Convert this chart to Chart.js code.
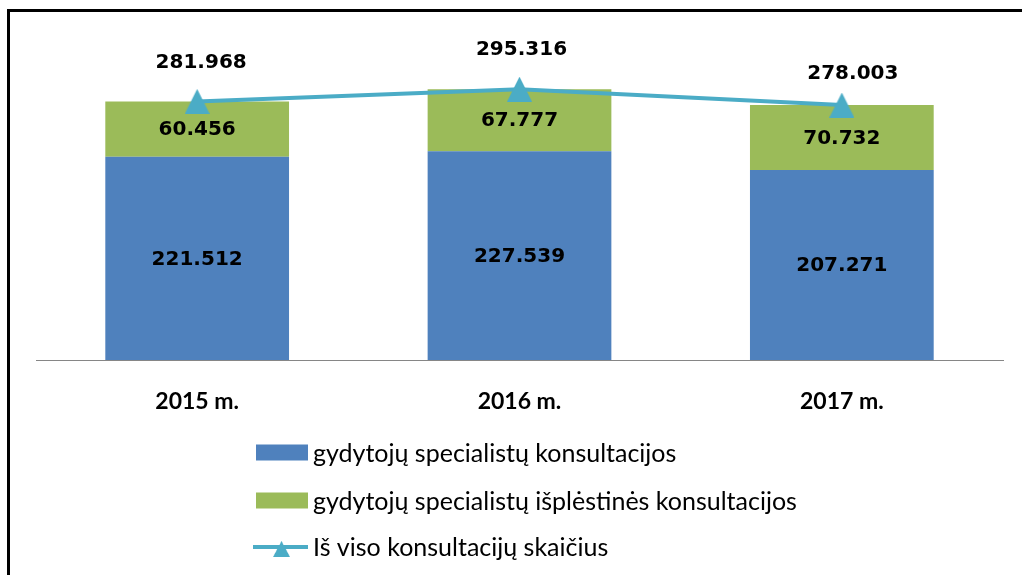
<!DOCTYPE html>
<html>
<head>
<meta charset="utf-8">
<script src="https://cdn.jsdelivr.net/npm/chart.js@4.4.1/dist/chart.umd.min.js"></script>
<style>
  html, body { margin: 0; padding: 0; background: #fff; }
  #wrap { position: relative; width: 1022px; height: 575px; overflow: hidden; }
  #frame { position: absolute; left: 7px; top: 9px; right: -10px; bottom: -10px;
           border-top: 3px solid #000; border-left: 3px solid #000; pointer-events: none; }
  canvas { position: absolute; left: 0; top: 0; }
</style>
</head>
<body>
<div id="wrap">
  <canvas id="chart" width="1022" height="575"></canvas>
  <div id="frame"></div>
</div>
<script>
const years = ["2015 m.", "2016 m.", "2017 m."];
const specialists = [221.512, 227.539, 207.271];
const extended = [60.456, 67.777, 70.732];
const totals = [281.968, 295.316, 278.003];

const seriesNames = [
  "gydytojų specialistų konsultacijos",
  "gydytojų specialistų išplėstinės konsultacijos",
  "Iš viso konsultacijų skaičius"
];

const blue = "#4F81BD";
const green = "#9BBB59";
const teal = "#4BACC6";

// where the total labels sit relative to their points (Excel placed them by hand)
const totalLabelShift = [[4, -39], [2, -39], [11, -31]];

function fmt(v) {
  return v.toFixed(3);
}

// triangle marker centred on the point, like the Excel one
function triangleMarker(w, h) {
  const c = document.createElement("canvas");
  c.width = w;
  c.height = h;
  const g = c.getContext("2d");
  g.fillStyle = teal;
  g.beginPath();
  g.moveTo(w / 2, 0);
  g.lineTo(w, h);
  g.lineTo(0, h);
  g.closePath();
  g.fill();
  return c;
}
const marker = triangleMarker(25, 25);

const valueLabels = {
  id: "valueLabels",
  afterDatasetsDraw(chart) {
    const ctx = chart.ctx;
    ctx.save();
    ctx.font = "bold 20px 'DejaVu Sans'";
    ctx.fillStyle = "#000";
    ctx.textAlign = "center";
    ctx.textBaseline = "middle";
    chart.data.datasets.forEach((ds, i) => {
      const meta = chart.getDatasetMeta(i);
      meta.data.forEach((el, j) => {
        const v = ds.data[j];
        if (ds.type === "line") {
          const [dx, dy] = totalLabelShift[j];
          ctx.fillText(fmt(v), el.x + dx, el.y + dy);
        } else {
          ctx.fillText(fmt(v), el.x, (el.y + el.base) / 2 + 1);
        }
      });
    });
    ctx.restore();
  }
};

// legend as a left-aligned column under the axis
const columnLegend = {
  id: "columnLegend",
  afterDraw(chart) {
    const ctx = chart.ctx;
    const x0 = 256, rowY = [452.5, 500.5, 547];
    ctx.save();
    ctx.font = "25px Lato";
    ctx.textBaseline = "middle";
    ctx.textAlign = "left";
    chart.data.datasets.forEach((ds, i) => {
      const y = rowY[i];
      if (ds.type === "line") {
        ctx.strokeStyle = ds.borderColor;
        ctx.lineWidth = 4;
        ctx.beginPath();
        ctx.moveTo(x0 - 3, y);
        ctx.lineTo(x0 + 52, y);
        ctx.stroke();
        ctx.drawImage(marker, x0 + 17, y - 6, 17, 16);
      } else {
        ctx.fillStyle = ds.backgroundColor;
        ctx.fillRect(x0, y - 8, 52, 16);
      }
      ctx.fillStyle = "#000";
      ctx.fillText(ds.label, x0 + 57, y + 1);
    });
    ctx.restore();
  }
};

new Chart(document.getElementById("chart"), {
  type: "bar",
  data: {
    labels: years,
    datasets: [
      { label: seriesNames[0], data: specialists, backgroundColor: blue, order: 1,
        barPercentage: 0.57, categoryPercentage: 1 },
      { label: seriesNames[1], data: extended, backgroundColor: green, order: 1,
        barPercentage: 0.57, categoryPercentage: 1 },
      { type: "line", label: seriesNames[2], data: totals, stack: "total", order: 0,
        borderColor: teal, backgroundColor: teal, borderWidth: 4,
        pointStyle: marker, pointRadius: 12, tension: 0 }
    ]
  },
  options: {
    responsive: false,
    animation: false,
    layout: { padding: { left: 36, right: 19, top: 39, bottom: 0 } },
    plugins: { legend: { display: false }, tooltip: { enabled: false } },
    scales: {
      x: {
        stacked: true,
        grid: { display: false },
        border: { display: true, color: "#868686", width: 1 },
        ticks: { color: "#000", font: { family: "Lato", size: 23, weight: "bold" }, padding: 20 },
        afterFit(scale) { scale.height = 215; }
      },
      y: {
        stacked: true,
        display: false,
        min: 0,
        max: 350
      }
    }
  },
  plugins: [valueLabels, columnLegend]
});
</script>
</body>
</html>
